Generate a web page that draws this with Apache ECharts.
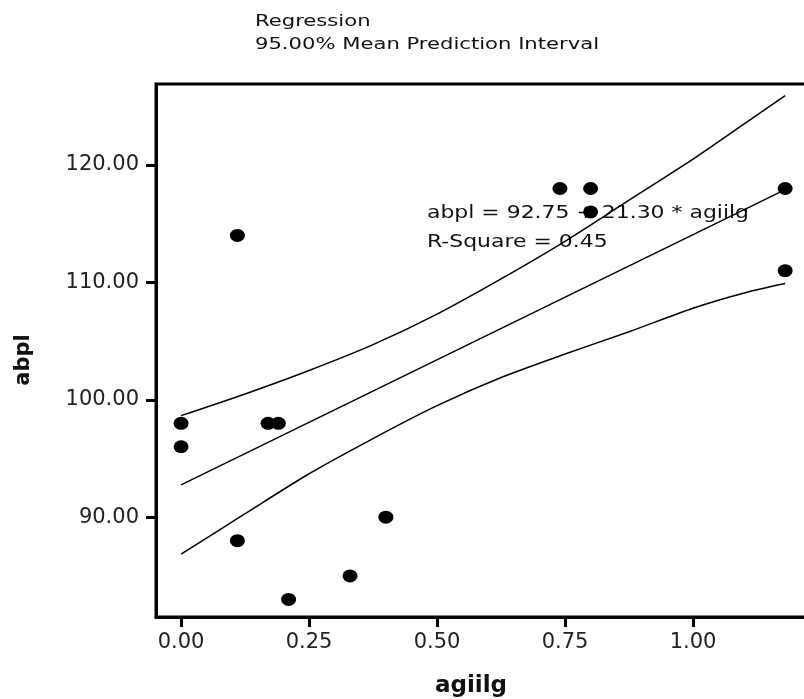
<!DOCTYPE html>
<html><head><meta charset="utf-8">
<script src="https://cdn.jsdelivr.net/npm/echarts@6/dist/echarts.min.js"></script>
<style>html,body{margin:0;padding:0;background:#fff}#c{width:804px;height:699px}</style>
</head><body><div id="c"></div>
<script>
// observed data points
const agiilg = [0.00, 0.00, 0.17, 0.19, 0.11, 0.11, 0.21, 0.33, 0.40, 0.74, 0.80, 0.80, 1.18, 1.18];
const abpl   = [98,   96,   98,   98,   114,  88,   83,   85,   90,   118,  118,  116,  118,  111];
// regression line
const fitX = [0.00, 1.18];
const fitY = [92.75, 117.9];
// 95% mean prediction interval curves
const bandX  = [0.00, 0.125, 0.25, 0.375, 0.50, 0.625, 0.75, 0.875, 1.00, 1.10, 1.18];
const upperY = [98.65, 100.5, 102.5, 104.7, 107.3, 110.3, 113.5, 117.0, 120.5, 123.5, 125.9];
const lowerY = [86.85, 90.3, 93.7, 96.7, 99.5, 101.9, 103.9, 105.8, 107.8, 109.1, 109.9];
// tick labels
const xTicks = [0, 0.25, 0.50, 0.75, 1.00];
const yTicks = [90, 100, 110, 120];
const titleLines = ['Regression', '95.00% Mean Prediction Interval'];
const noteLines = ['abpl = 92.75 + 21.30 * agiilg', 'R-Square = 0.45'];

const zip = (a, b) => a.map((v, i) => [v, b[i]]);
const chart = echarts.init(document.getElementById('c'), null, {renderer: 'canvas'});
const lineStyle = {color: '#000', width: 1.5};
const labelFont = {fontFamily: 'DejaVu Sans', fontSize: 21, color: '#222'};

chart.setOption({
  animation: false,
  backgroundColor: '#fff',
  grid: {left: 156, top: 84, width: 665, height: 533, outerBoundsMode: 'none', containLabel: false,
         show: true, borderColor: '#000', borderWidth: 3},
  xAxis: {
    type: 'value', min: -0.049, max: 1.25,
    axisLine: {show: true, onZero: false, lineStyle: {color: '#000', width: 3}},
    axisTick: {show: true, length: 10, customValues: xTicks, lineStyle: {color: '#000', width: 3}},
    axisLabel: Object.assign({margin: 15, customValues: xTicks, formatter: v => v.toFixed(2)}, labelFont),
    splitLine: {show: false}
  },
  yAxis: {
    type: 'value', min: 81.5, max: 126.9,
    axisLine: {show: true, onZero: false, lineStyle: {color: '#000', width: 3}},
    axisTick: {show: true, length: 10, customValues: yTicks, lineStyle: {color: '#000', width: 3}},
    axisLabel: Object.assign({margin: 17, customValues: yTicks, formatter: v => v.toFixed(2)}, labelFont),
    splitLine: {show: false}
  },
  series: [
    {type: 'line', data: zip(bandX, upperY), smooth: 0.25, symbol: 'none', lineStyle: lineStyle, z: 2},
    {type: 'line', data: zip(bandX, lowerY), smooth: 0.25, symbol: 'none', lineStyle: lineStyle, z: 2},
    {type: 'line', data: zip(fitX, fitY), symbol: 'none', lineStyle: lineStyle, z: 2},
    {type: 'scatter', data: zip(agiilg, abpl), symbol: 'circle', symbolSize: [15, 13],
     itemStyle: {color: '#000', opacity: 1}, z: 3}
  ],
  graphic: [
    {type: 'text', x: 255, y: 22, scaleX: 1.32, z: 10,
     style: {text: titleLines[0], fontFamily: 'DejaVu Sans', fontSize: 16, fill: '#111', verticalAlign: 'middle'}},
    {type: 'text', x: 255, y: 45, scaleX: 1.32, z: 10,
     style: {text: titleLines[1], fontFamily: 'DejaVu Sans', fontSize: 16, fill: '#111', verticalAlign: 'middle'}},
    {type: 'text', x: 427, y: 214, scaleX: 1.29, z: 1,
     style: {text: noteLines[0], fontFamily: 'DejaVu Sans', fontSize: 17, fill: '#111', verticalAlign: 'middle'}},
    {type: 'text', x: 427, y: 243, scaleX: 1.29, z: 1,
     style: {text: noteLines[1], fontFamily: 'DejaVu Sans', fontSize: 17, fill: '#111', verticalAlign: 'middle'}},
    {type: 'text', x: 24, y: 360, rotation: Math.PI / 2, z: 10,
     style: {text: 'abpl', fontFamily: 'DejaVu Sans', fontWeight: 'bold', fontSize: 21, fill: '#111',
             align: 'center', verticalAlign: 'middle'}},
    {type: 'text', x: 471, y: 686, z: 10,
     style: {text: 'agiilg', fontFamily: 'DejaVu Sans', fontWeight: 'bold', fontSize: 23, fill: '#111',
             align: 'center', verticalAlign: 'middle'}}
  ]
});
</script>
</body></html>
